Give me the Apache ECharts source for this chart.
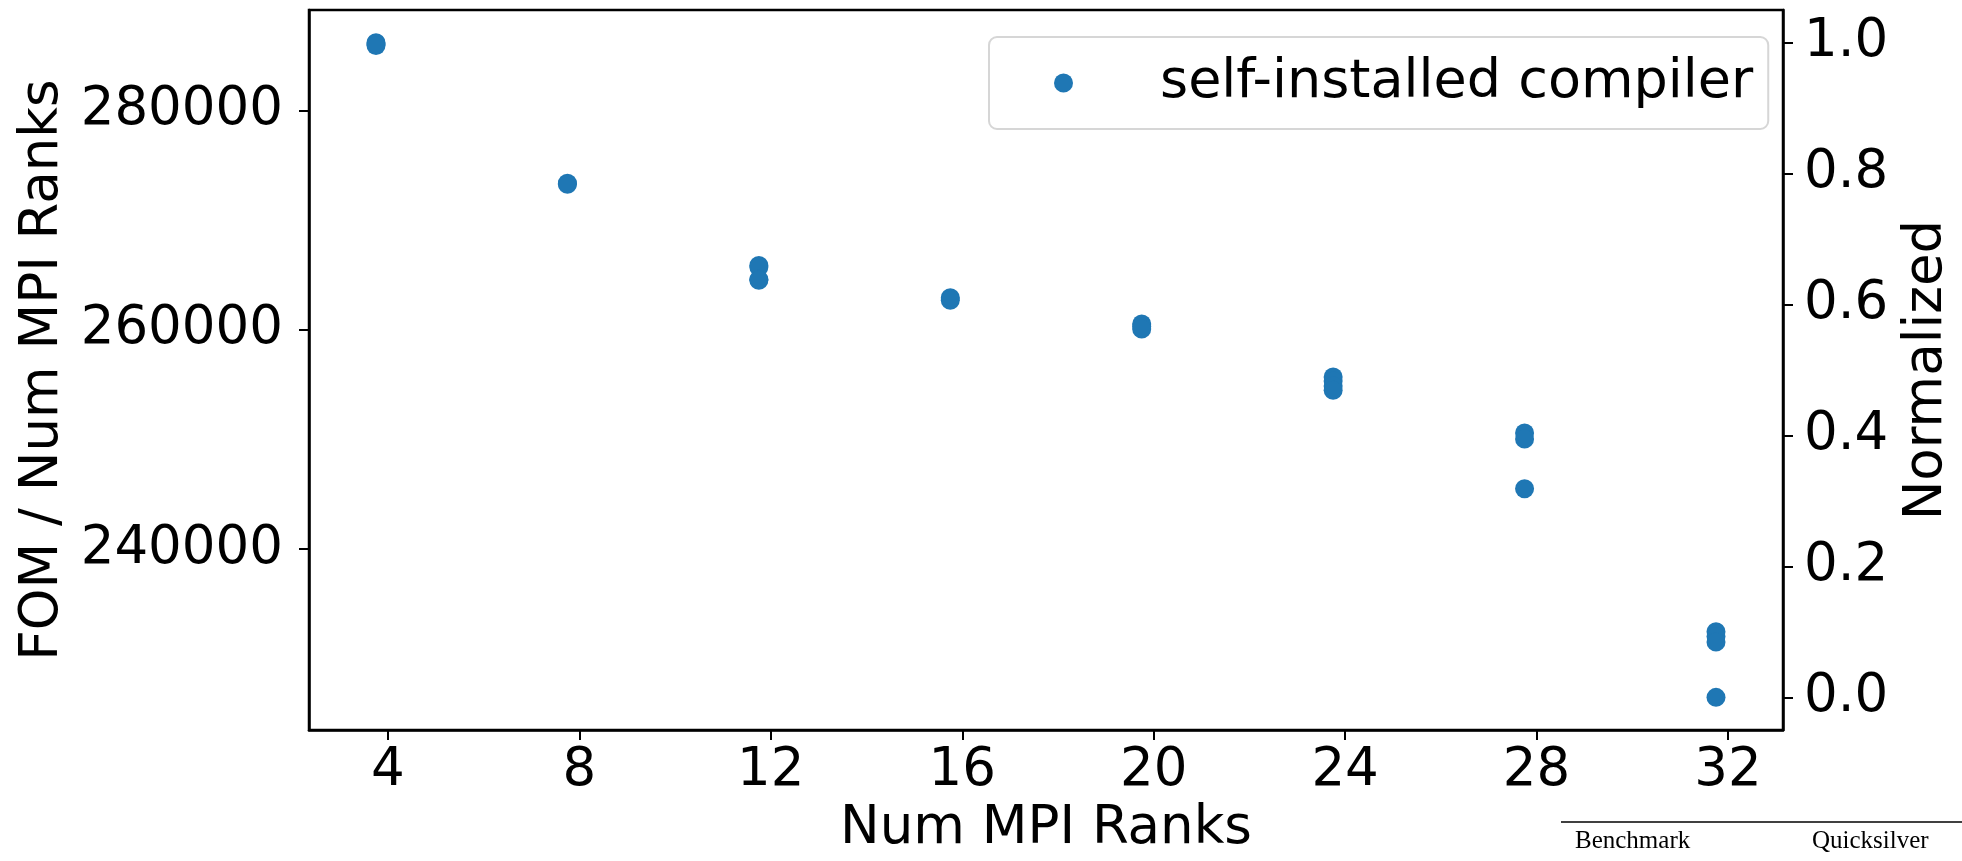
<!DOCTYPE html>
<html>
<head>
<meta charset="utf-8">
<script src="https://cdn.jsdelivr.net/npm/echarts@6/dist/echarts.min.js"></script>
<style>
html,body{margin:0;padding:0;background:#fff;}
#chart{width:1962px;height:861px;}
</style>
</head>
<body>
<div id="chart"></div>
<script>
// Data: Num MPI Ranks (plotted offset -0.25) and FOM / Num MPI Ranks
const rankX = [
  3.75, 3.75, 3.75,
  7.75, 7.75,
  11.75, 11.75, 11.75, 11.75,
  15.75, 15.75,
  19.75, 19.75, 19.75,
  23.75, 23.75, 23.75, 23.75,
  27.75, 27.75, 27.75,
  31.75, 31.75, 31.75, 31.75
];
const fomPerRank = [
  286176, 286059, 285923,
  273353, 273262,
  265847, 265712, 264582, 264491,
  262909, 262683,
  260513, 260287, 260060,
  255674, 255313, 254860, 254453,
  250564, 250022, 245483,
  232434, 231982, 231484, 226438
];
const seriesName = 'self-installed compiler';
const xTicks = [4, 8, 12, 16, 20, 24, 28, 32];
const yTicks = [240000, 260000, 280000];
const normTicks = [0.0, 0.2, 0.4, 0.6, 0.8, 1.0];

// matplotlib-style 5% margins
const xMinD = Math.min(...rankX), xMaxD = Math.max(...rankX), xR = xMaxD - xMinD;
const yMinD = Math.min(...fomPerRank), yMaxD = Math.max(...fomPerRank), yR = yMaxD - yMinD;

const points = rankX.map((x, i) => [x, fomPerRank[i]]);

const FONT = 'DejaVu Sans';
const FS = 53;
const chart = echarts.init(document.getElementById('chart'), null, {renderer: 'canvas'});
chart.setOption({
  animation: false,
  backgroundColor: '#fff',
  grid: {left: 309, right: 164, top: 10, bottom: 124, show: true, borderColor: '#000', borderWidth: 2.5, containLabel: false},
  legend: {
    data: [seriesName],
    left: 989, top: 37,
    orient: 'horizontal',
    padding: [15, 15, 15, 65],
    backgroundColor: '#fff',
    borderColor: '#d6d6d6',
    borderWidth: 2,
    borderRadius: 8,
    itemWidth: 19, itemHeight: 19,
    icon: 'circle',
    textStyle: {fontFamily: FONT, fontSize: 54, color: '#000', padding: [0, 0, 0, 82], lineHeight: 62}
  },
  xAxis: {
    type: 'value',
    min: xMinD - 0.05 * xR,
    max: xMaxD + 0.05 * xR,
    name: 'Num MPI Ranks',
    nameLocation: 'middle',
    nameGap: 64,
    nameTextStyle: {fontFamily: FONT, fontSize: FS, color: '#000'},
    axisLine: {show: true, onZero: false, lineStyle: {color: '#000', width: 2.5}},
    axisTick: {show: true, length: 10, inside: false, lineStyle: {color: '#000', width: 2}, customValues: xTicks},
    axisLabel: {fontFamily: FONT, fontSize: FS, color: '#000', margin: 15, customValues: xTicks},
    splitLine: {show: false}
  },
  yAxis: [{
    type: 'value',
    position: 'left',
    min: yMinD - 0.05 * yR,
    max: yMaxD + 0.05 * yR,
    name: 'FOM / Num MPI Ranks',
    nameLocation: 'middle',
    nameRotate: 90,
    nameGap: 236,
    nameTextStyle: {fontFamily: FONT, fontSize: FS, color: '#000'},
    axisLine: {show: true, onZero: false, lineStyle: {color: '#000', width: 2.5}},
    axisTick: {show: true, length: 10, lineStyle: {color: '#000', width: 2}, customValues: yTicks},
    axisLabel: {fontFamily: FONT, fontSize: FS, color: '#000', margin: 26, customValues: yTicks, formatter: v => String(Math.round(v))},
    splitLine: {show: false}
  }, {
    type: 'value',
    position: 'right',
    min: -0.05,
    max: 1.05,
    name: 'Normalized',
    nameLocation: 'middle',
    nameRotate: 90,
    nameGap: 118,
    nameTextStyle: {fontFamily: FONT, fontSize: FS, color: '#000'},
    axisLine: {show: true, onZero: false, lineStyle: {color: '#000', width: 2.5}},
    axisTick: {show: true, length: 10, lineStyle: {color: '#000', width: 2}, customValues: normTicks},
    axisLabel: {fontFamily: FONT, fontSize: FS, color: '#000', margin: 21, customValues: normTicks, formatter: v => v.toFixed(1)},
    splitLine: {show: false}
  }],
  series: [{
    name: seriesName,
    type: 'scatter',
    yAxisIndex: 0,
    symbol: 'circle',
    symbolSize: 19,
    itemStyle: {color: '#1f77b4', opacity: 1},
    data: points
  }],
  graphic: [
    {type: 'line', shape: {x1: 1561, y1: 822, x2: 1962, y2: 822}, style: {stroke: '#000', lineWidth: 1.5}},
    {type: 'text', left: 1575, top: 829, style: {text: 'Benchmark', font: '25px "Liberation Serif"', fill: '#000'}},
    {type: 'text', left: 1812, top: 829, style: {text: 'Quicksilver', font: '25px "Liberation Serif"', fill: '#000'}}
  ]
});
</script>
</body>
</html>
